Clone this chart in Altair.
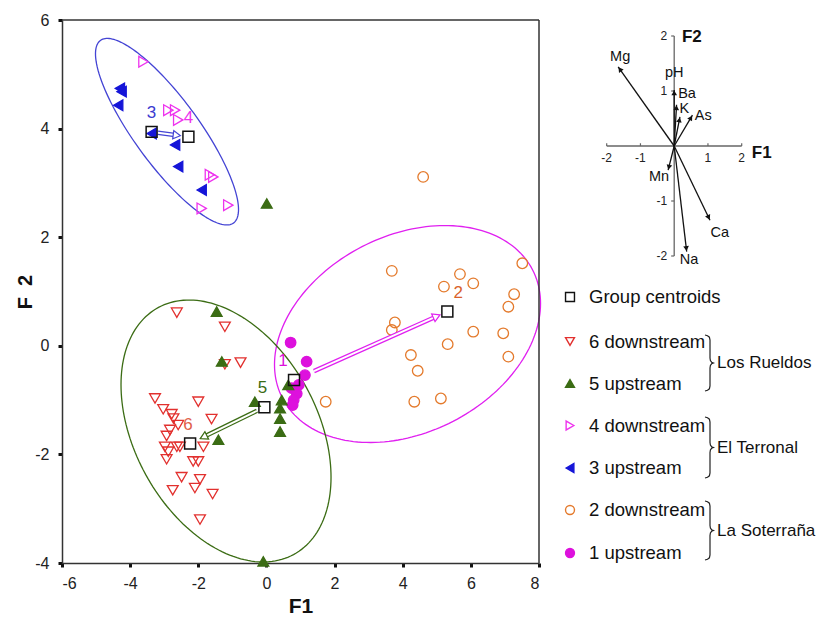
import math
import numpy as np
import pandas as pd
import altair as alt

FONT = "Liberation Sans, Arial, Helvetica, sans-serif"

# ---------------- discriminant scores (F1, F2) per group ----------------
g1_x = [0.71, 1.18, 1.13, 0.74, 0.89, 0.80, 0.77, 0.95]
g1_y = [0.06, -0.29, -0.54, -0.78, -0.88, -1.00, -1.09, -0.72]
g2_x = [4.60, 3.68, 5.68, 6.07, 5.21, 7.51, 7.27, 7.10, 3.77, 3.68, 6.07, 6.95, 5.32, 7.10, 4.24, 4.44, 1.74, 4.34, 5.12]
g2_y = [3.11, 1.38, 1.32, 1.15, 1.09, 1.52, 0.95, 0.72, 0.43, 0.29, 0.26, 0.23, 0.03, -0.20, -0.17, -0.46, -1.03, -1.03, -0.97]
g3_x = [-4.30, -4.25, -4.35, -3.37, -2.68, -2.59, -1.90]
g3_y = [4.74, 4.68, 4.43, 3.91, 3.70, 3.30, 2.87]
g4_x = [-3.61, -2.88, -2.68, -2.59, -1.66, -1.56, -1.90, -1.12]
g4_y = [5.23, 4.34, 4.34, 4.16, 3.15, 3.11, 2.53, 2.59]
g5_x = [-1.46, -1.31, -0.34, 0.45, 0.40, 0.40, -1.41, 0.40, 0.64, -0.09, 0.01]
g5_y = [0.63, -0.29, -1.03, -1.00, -1.15, -1.34, -1.73, -1.58, -0.72, -3.97, 2.62]
g6_x = [-2.63, -1.22, -1.22, -0.76, -3.27, -2.00, -3.03, -2.78, -2.73, -2.59, -1.61, -2.83, -2.93,
        -2.98, -2.88, -2.63, -2.54, -1.85, -2.93, -2.15, -2.00, -2.49, -1.95, -2.10, -2.75, -1.58, -1.95]
g6_y = [0.61, 0.35, -0.34, -0.31, -0.97, -1.03, -1.17, -1.26, -1.34, -1.46, -1.35, -1.55, -1.66,
        -1.86, -1.95, -1.86, -1.86, -1.86, -2.09, -2.13, -2.13, -2.42, -2.46, -2.62, -2.66, -2.73, -3.20]

# group centroids 1..6
cent_lab = ["1", "2", "3", "4", "5", "6"]
cent_x = [0.81, 5.31, -3.37, -2.29, -0.06, -2.24]
cent_y = [-0.63, 0.63, 3.94, 3.85, -1.13, -1.80]

# confidence ellipses per site: centre and conjugate half-axes (data units)
ell_site = ["LS", "ET", "LR"]
ell_cx = [4.141, -2.918, -1.186]
ell_cy = [0.217, 3.943, -1.569]
ell_ux = [3.904, 2.099, 3.082]
ell_uy = [0.563, -1.434, -0.851]
ell_vy = [1.917, 0.946, 2.257]

# ---------------- inset: variable loadings ----------------
var_name = ["Mg", "pH", "Ba", "K", "As", "Mn", "Ca", "Na"]
var_x = [-1.66, 0.00, 0.07, 0.17, 0.54, -0.18, 1.06, 0.37]
var_y = [1.44, 1.02, 0.75, 0.53, 0.56, -0.44, -1.35, -1.92]
var_lx = [-1.60, 0.00, 0.38, 0.30, 0.86, -0.45, 1.35, 0.44]
var_ly = [1.62, 1.32, 0.94, 0.67, 0.55, -0.56, -1.59, -2.07]
inset_ticks = [-2, -1, 1, 2]

# ---------------- legend ----------------
leg_code = ["c", "6", "5", "4", "3", "2", "1"]
leg_text = ["Group centroids", "6 downstream", "5 upstream", "4 downstream",
            "3 upstream", "2 downstream", "1 upstream"]
site_names = ["Los Rueldos", "El Terronal", "La Soterraña"]

# ---------------- layout constants (pixels) ----------------
W, H = 756, 543
MAIN_W = 477
PXX = MAIN_W / 14.0
PXY = H / 10.0

C1, C2, C3, C4, C5, C6 = "#dd11dd", "#e47a2c", "#1515d8", "#ee33ee", "#3b6c14", "#e2302e"

grp_dom = ["1", "2", "3", "4", "5", "6", "c"]
shape_sc = alt.Scale(domain=grp_dom, range=["circle", "circle", "triangle-left", "triangle-right",
                                            "triangle-up", "triangle-down", "square"])
fill_sc = alt.Scale(domain=grp_dom, range=[C1, "transparent", C3, "transparent", C5, "transparent", "transparent"])
stroke_sc = alt.Scale(domain=grp_dom, range=[C1, C2, C3, C4, C5, C6, "#111111"])
size_sc = alt.Scale(domain=grp_dom, range=[110, 120, 95, 95, 95, 95, 230])
site_sc = alt.Scale(domain=["LS", "ET", "LR"], range=["#e020f0", "#4444d4", "#3b6c14"])

xs = alt.Scale(domain=[-6, 8], range=[0, MAIN_W], nice=False, zero=False)
ys = alt.Scale(domain=[-4, 6], nice=False, zero=False)

ax_x = alt.Axis(values=list(range(-6, 9, 2)), grid=False, tickSize=4, tickWidth=3, tickColor="#111",
                domainColor="#333", domainWidth=1.5, labelFontSize=16, labelColor="#222",
                labelPadding=8, labelExpr="'' + datum.value",
                titleFontSize=21, titleFontWeight="bold", titleColor="#111",
                titleX=MAIN_W / 2, titleY=43, titleBaseline="middle", titleAlign="center",
                labelFont=FONT, titleFont=FONT)
ax_y = alt.Axis(values=list(range(-4, 7, 2)), grid=False, tickSize=4, tickWidth=3, tickColor="#111",
                domainColor="#333", domainWidth=1.5, labelFontSize=16, labelColor="#222",
                labelPadding=9, labelExpr="'' + datum.value",
                titleFontSize=20, titleFontWeight="bold", titleColor="#111",
                titleX=-37, titleY=H / 2, titleAngle=270, titleBaseline="middle", titleAlign="center",
                labelFont=FONT, titleFont=FONT)


def X(f):
    return alt.X(f, scale=xs, axis=ax_x, title="F1")


def Y(f):
    return alt.Y(f, scale=ys, axis=ax_y, title="F\u00a0\u00a02")


# points
rows = []
for g, xx, yy in [("2", g2_x, g2_y), ("1", g1_x, g1_y), ("6", g6_x, g6_y),
                  ("5", g5_x, g5_y), ("4", g4_x, g4_y), ("3", g3_x, g3_y)]:
    for a, b in zip(xx, yy):
        rows.append({"x": a, "y": b, "g": g})
pts = pd.DataFrame(rows)

# ellipses
t = np.linspace(0, 2 * np.pi, 181)
erows = []
for i, s in enumerate(ell_site):
    for k, tt in enumerate(t):
        erows.append({"site": s, "k": k,
                      "x": ell_cx[i] + ell_ux[i] * np.cos(tt),
                      "y": ell_cy[i] + ell_uy[i] * np.cos(tt) + ell_vy[i] * np.sin(tt)})
ell = pd.DataFrame(erows)

# centroid arrows (upstream -> downstream)
arows, hrows = [], []
for a, b, s, t0, t1 in [(2, 3, "ET", 0.17, 0.82), (4, 5, "LR", 0.10, 0.88), (0, 1, "LS", 0.13, 0.96)]:
    dx = cent_x[b] - cent_x[a]
    dy = cent_y[b] - cent_y[a]
    dxp, dyp = dx * PXX, -dy * PXY
    L = math.hypot(dxp, dyp)
    ux, uy = dxp / L, dyp / L
    tipx, tipy = cent_x[a] + t1 * dx, cent_y[a] + t1 * dy
    arows.append({"site": s, "x": cent_x[a] + t0 * dx, "y": cent_y[a] + t0 * dy,
                  "x2": tipx - ux * 7 / PXX, "y2": tipy + uy * 7 / PXY})
    ang = math.degrees(math.atan2(ux, -uy)) % 360
    hrows.append({"site": s, "x": tipx - ux * 5 / PXX, "y": tipy + uy * 5 / PXY, "ang": ang})
arr = pd.DataFrame(arows)
heads = pd.DataFrame(hrows)

cent = pd.DataFrame({"x": cent_x, "y": cent_y, "lab": cent_lab, "g": ["c"] * 6})
frame = pd.DataFrame({"x": [-6, 8], "y": [6, -4], "x2": [8, 8], "y2": [6, 6]})

enc_pts = dict(shape=alt.Shape("g:N", scale=shape_sc, legend=None),
               fill=alt.Fill("g:N", scale=fill_sc, legend=None),
               stroke=alt.Stroke("g:N", scale=stroke_sc, legend=None),
               size=alt.Size("g:N", scale=size_sc, legend=None))

l_ell = alt.Chart(ell).mark_line(strokeWidth=1.3).encode(
    x=X("x:Q"), y=Y("y:Q"), order="k:Q",
    color=alt.Color("site:N", scale=site_sc, legend=None), detail="site:N")
l_frame = alt.Chart(frame).mark_rule(color="#333", strokeWidth=1.5).encode(
    x=X("x:Q"), y=Y("y:Q"), x2="x2:Q", y2="y2:Q")
l_pts = alt.Chart(pts).mark_point(filled=True, strokeWidth=1.3, opacity=1).encode(
    x=X("x:Q"), y=Y("y:Q"), **enc_pts)
l_arr1 = alt.Chart(arr).mark_rule(strokeWidth=4.5, strokeCap="butt").encode(
    x=X("x:Q"), y=Y("y:Q"), x2="x2:Q", y2="y2:Q",
    color=alt.Color("site:N", scale=site_sc, legend=None))
l_arr2 = alt.Chart(arr).mark_rule(strokeWidth=2, color="white", strokeCap="butt").encode(
    x=X("x:Q"), y=Y("y:Q"), x2="x2:Q", y2="y2:Q")
l_head = alt.Chart(heads).mark_point(shape="triangle-up", filled=False, fill="white",
                                     size=70, strokeWidth=1.2, opacity=1).encode(
    x=X("x:Q"), y=Y("y:Q"), angle=alt.Angle("ang:Q", scale=None),
    color=alt.Color("site:N", scale=site_sc, legend=None))
l_cent = alt.Chart(cent).mark_point(filled=True, strokeWidth=1.5, opacity=1).encode(
    x=X("x:Q"), y=Y("y:Q"), **enc_pts)

lab_col = ["#dd11dd", "#d9622b", "#3a3ad0", "#ee33ee", "#3b6c14", "#e0604a"]
lab_dx = [-11, 11, 0, 0, -2, -2]
lab_layers = []
for i in range(6):
    lab_layers.append(
        alt.Chart(cent.iloc[[i]]).mark_text(dx=lab_dx[i], dy=-19, fontSize=17, font=FONT,
                                            color=lab_col[i]).encode(
            x=X("x:Q"), y=Y("y:Q"), text="lab:N"))

main = alt.layer(l_ell, l_frame, l_pts, l_arr1, l_arr2, l_head, l_cent, *lab_layers)

# ---------------- inset chart ----------------
xs_in = alt.Scale(domain=[-2, 2], range=[544.7, 679.7], nice=False, zero=False)
ys_in = alt.Scale(domain=[-2, 2], range=[236, 16], nice=False, zero=False)


def XI(f):
    return alt.X(f, scale=xs_in, axis=None)


def YI(f):
    return alt.Y(f, scale=ys_in, axis=None)


iax = pd.DataFrame({"x": [-2, 0], "y": [0, -2], "x2": [2, 0], "y2": [0, 2]})
itx = pd.DataFrame({"x": inset_ticks, "y": [0] * 4, "y2": [0.05] * 4, "lab": [str(v) for v in inset_ticks]})
ity = pd.DataFrame({"y": inset_ticks, "x": [0] * 4, "x2": [-0.09] * 4, "lab": [str(v) for v in inset_ticks]})
KX, KY = 135 / 4.0, 220 / 4.0
vec = pd.DataFrame({"name": var_name, "x": var_x, "y": var_y, "lx": var_lx, "ly": var_ly,
                    "x0": [0] * 8, "y0": [0] * 8})
vec["ang"] = [math.degrees(math.atan2(a * KX, b * KY)) % 360 for a, b in zip(var_x, var_y)]
vec["hx"] = [a - 3.0 / KX * math.sin(math.radians(g)) for a, g in zip(var_x, vec["ang"])]
vec["hy"] = [b - 3.0 / KY * math.cos(math.radians(g)) for b, g in zip(var_y, vec["ang"])]
iname = pd.DataFrame({"x": [0.23, 2.30], "y": [1.98, -0.13], "lab": ["F2", "F1"]})

in_axes = alt.Chart(iax).mark_rule(color="#666", strokeWidth=1.3).encode(
    x=XI("x:Q"), y=YI("y:Q"), x2="x2:Q", y2="y2:Q")
in_tx = alt.Chart(itx).mark_rule(color="#666", strokeWidth=1.2).encode(
    x=XI("x:Q"), y=YI("y:Q"), y2="y2:Q")
in_ty = alt.Chart(ity).mark_rule(color="#666", strokeWidth=1.2).encode(
    x=XI("x:Q"), x2="x2:Q", y=YI("y:Q"))
in_txl = alt.Chart(itx).mark_text(dy=12, fontSize=12, font=FONT, color="#222").encode(
    x=XI("x:Q"), y=YI("y:Q"), text="lab:N")
in_tyl = alt.Chart(ity).mark_text(dx=-7, align="right", fontSize=12, font=FONT, color="#222").encode(
    x=XI("x:Q"), y=YI("y:Q"), text="lab:N")
in_vec = alt.Chart(vec).mark_rule(color="#111", strokeWidth=1.3).encode(
    x=XI("x0:Q"), y=YI("y0:Q"), x2="x:Q", y2="y:Q")
in_head = alt.Chart(vec).mark_point(shape="triangle-up", filled=True, color="#111", size=32, opacity=1).encode(
    x=XI("hx:Q"), y=YI("hy:Q"), angle=alt.Angle("ang:Q", scale=None))
in_lab = alt.Chart(vec).mark_text(fontSize=14.5, font=FONT, color="#111").encode(
    x=XI("lx:Q"), y=YI("ly:Q"), text="name:N")
in_name = alt.Chart(iname).mark_text(align="left", fontSize=17, fontWeight="bold", font=FONT,
                                     color="#111").encode(
    x=XI("x:Q"), y=YI("y:Q"), text="lab:N")

inset = alt.layer(in_axes, in_tx, in_ty, in_txl, in_tyl, in_vec, in_head, in_lab, in_name)

# ---------------- legend (identity pixel scales) ----------------
xs_l = alt.Scale(domain=[0, W], range=[0, W], nice=False, zero=False)
ys_l = alt.Scale(domain=[0, H], range=[0, H], nice=False, zero=False)


def XL(f):
    return alt.X(f, scale=xs_l, axis=None)


def YL(f):
    return alt.Y(f, scale=ys_l, axis=None)


row_y = [277, 321.5, 363.5, 405.5, 448, 490, 533]
leg = pd.DataFrame({"g": leg_code, "text": leg_text, "y": row_y, "sx": [508] * 7, "tx": [527] * 7})
leg_sym = alt.Chart(leg).mark_point(filled=True, strokeWidth=1.4, opacity=1, size=80).encode(
    x=XL("sx:Q"), y=YL("y:Q"),
    shape=alt.Shape("g:N", scale=shape_sc, legend=None),
    fill=alt.Fill("g:N", scale=fill_sc, legend=None),
    stroke=alt.Stroke("g:N", scale=stroke_sc, legend=None))
leg_txt = alt.Chart(leg).mark_text(align="left", fontSize=18.5, font=FONT, color="#111").encode(
    x=XL("tx:Q"), y=YL("y:Q"), text="text:N")

brace_top = [315, 397, 481]
brace_bot = [371, 458, 540]
x0, xv, xt = 643, 648, 651.5
brows = []
for i in range(3):
    yt, yb = brace_top[i], brace_bot[i]
    ym = (yt + yb) / 2
    pts_b = [(x0, yt), (x0 + 2.5, yt + 0.7), (xv - 0.6, yt + 2.2), (xv, yt + 5),
             (xv, ym - 5), (xv + 0.4, ym - 2.4), (xv + 1.6, ym - 0.8), (xt, ym),
             (xv + 1.6, ym + 0.8), (xv + 0.4, ym + 2.4), (xv, ym + 5),
             (xv, yb - 5), (xv - 0.6, yb - 2.2), (x0 + 2.5, yb - 0.7), (x0, yb)]
    for k, (a, b) in enumerate(pts_b):
        brows.append({"b": i, "k": k, "x": a, "y": b})
braces = pd.DataFrame(brows)
leg_br = alt.Chart(braces).mark_line(color="#222", strokeWidth=1.2).encode(
    x=XL("x:Q"), y=YL("y:Q"), order="k:Q", detail="b:N")
sites = pd.DataFrame({"t": site_names, "x": [655] * 3,
                      "y": [(a + b) / 2 for a, b in zip(brace_top, brace_bot)]})
leg_site = alt.Chart(sites).mark_text(align="left", fontSize=17, font=FONT, color="#111").encode(
    x=XL("x:Q"), y=YL("y:Q"), text="t:N")

legend = alt.layer(leg_sym, leg_txt, leg_br, leg_site)

chart = alt.layer(main, inset, legend).resolve_scale(x="independent", y="independent").properties(
    width=W, height=H,
    autosize=alt.AutoSizeParams(type="none"),
    padding={"left": 54, "top": 12, "right": 0, "bottom": 55},
).configure(font=FONT, background="white").configure_view(strokeWidth=0)

chart.save("out.html", embed_options={"renderer": "svg", "actions": False})
